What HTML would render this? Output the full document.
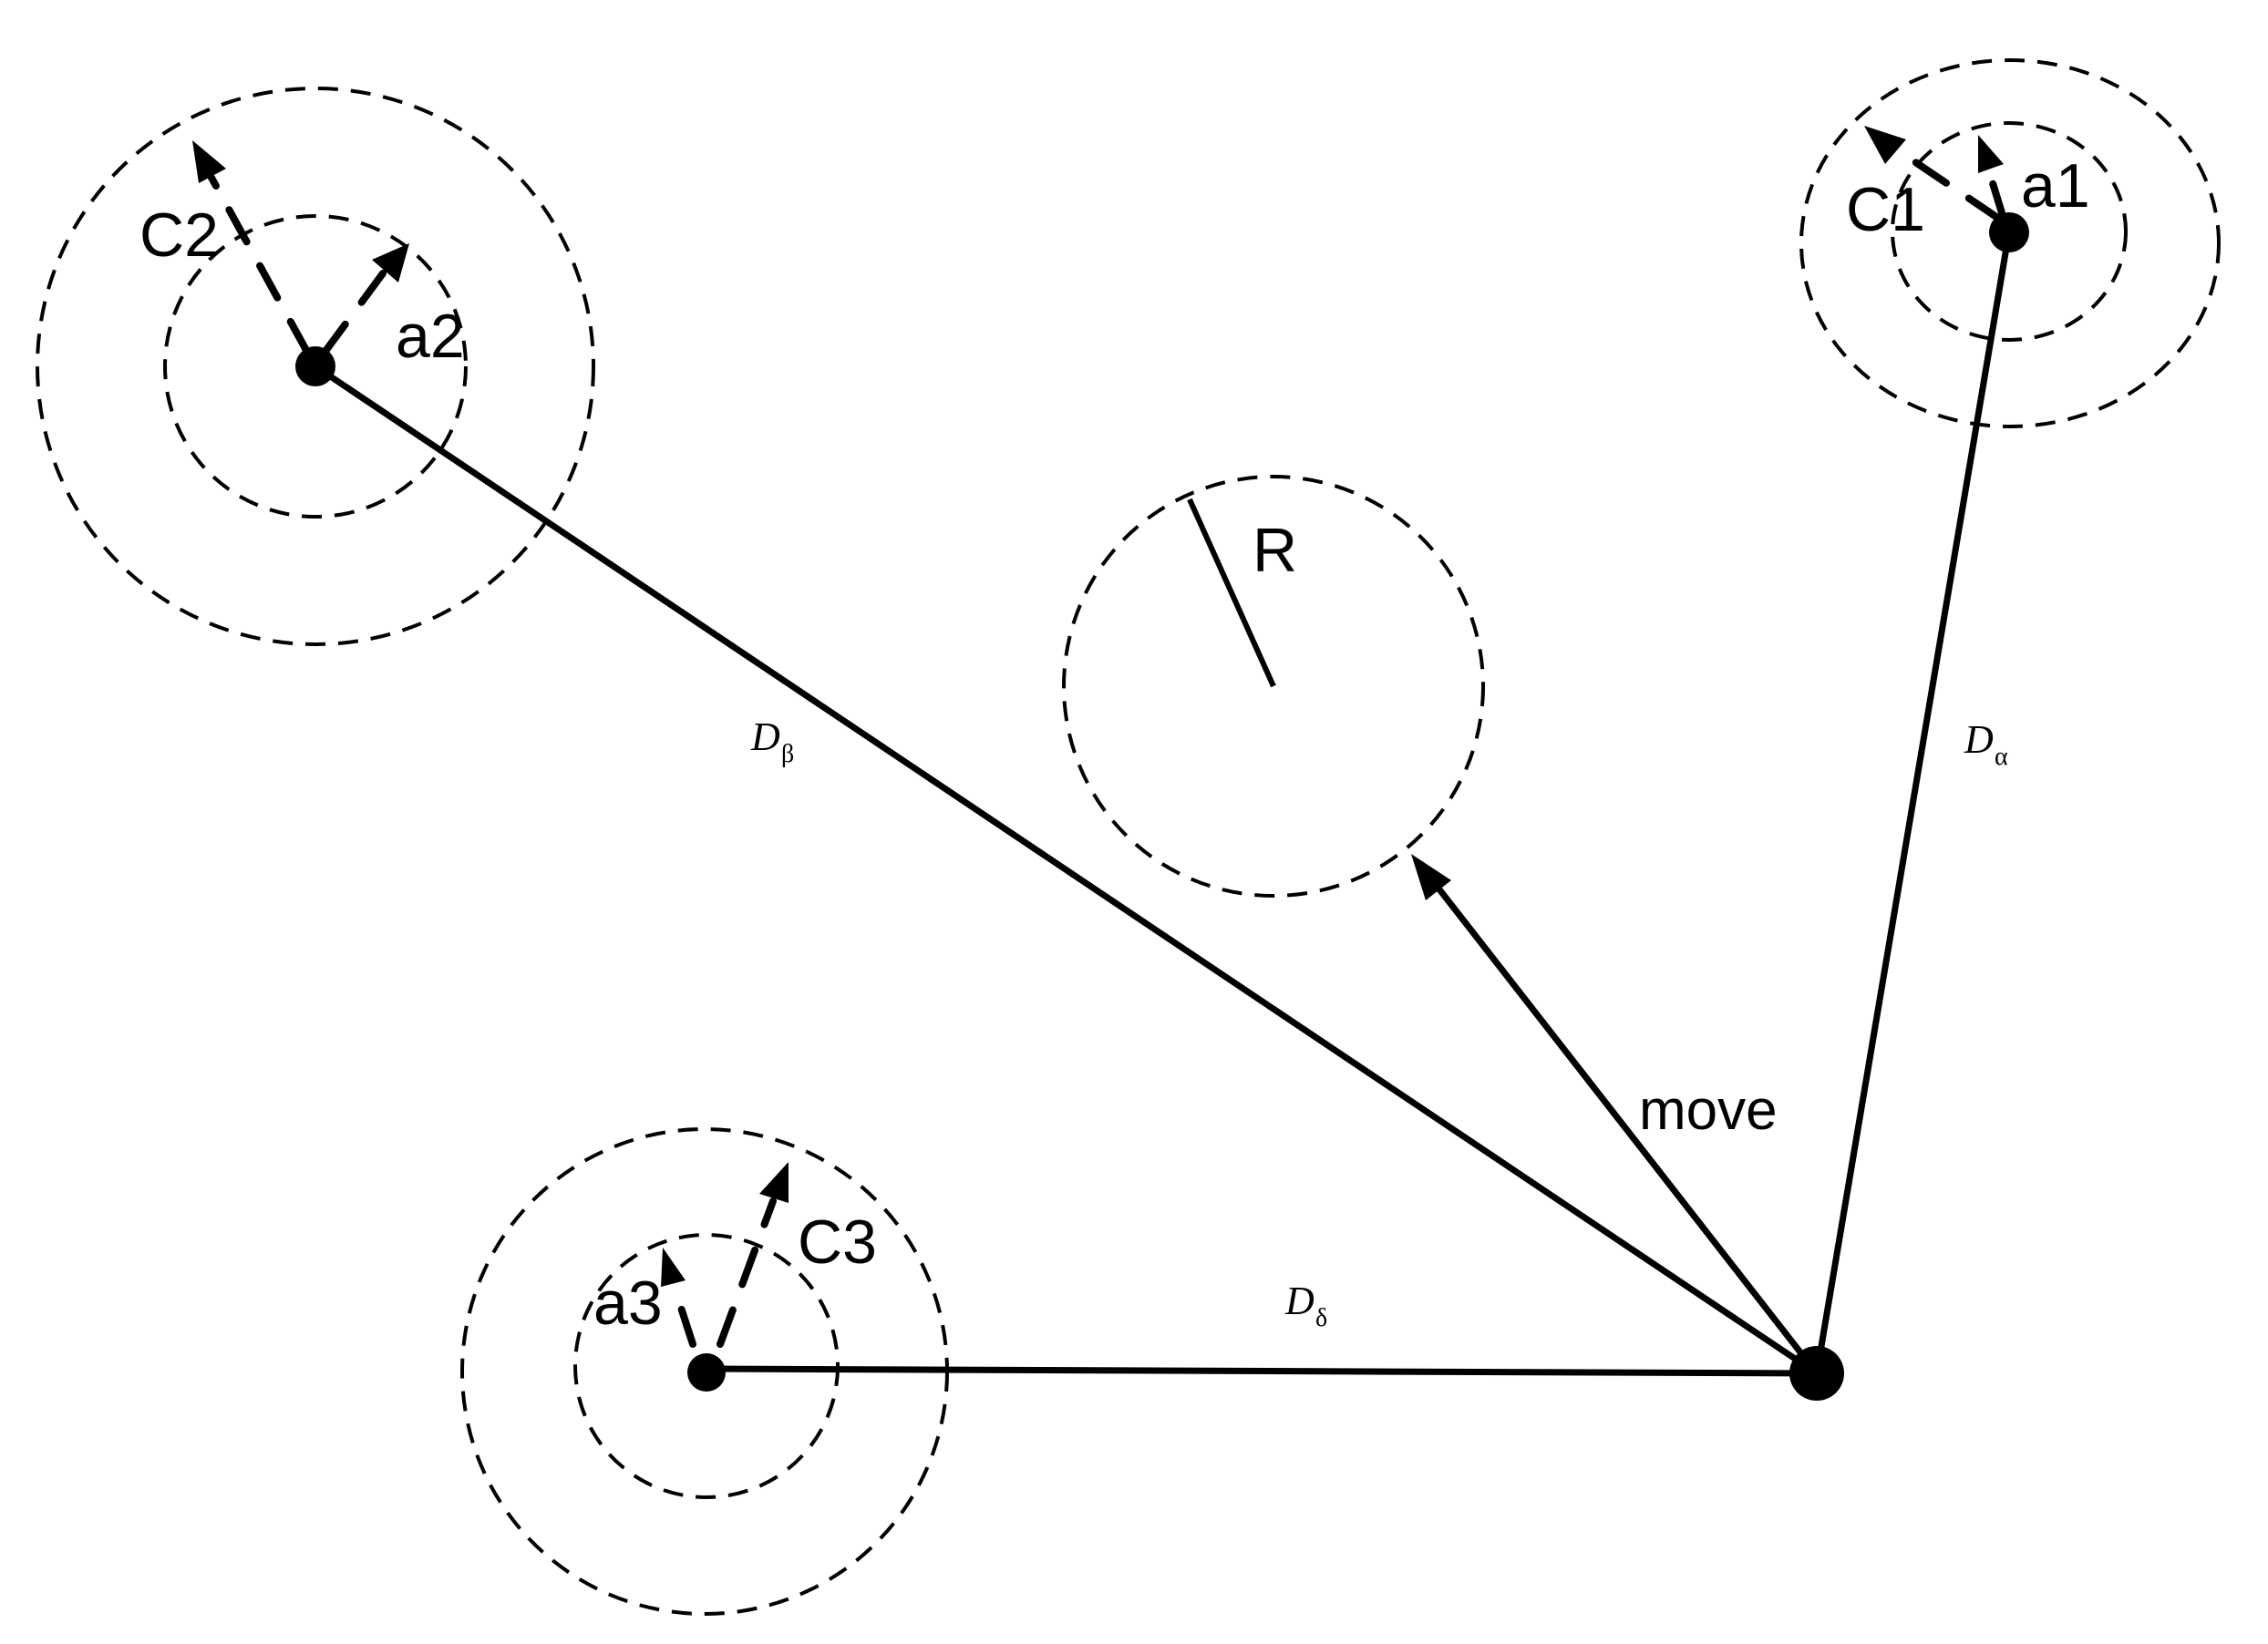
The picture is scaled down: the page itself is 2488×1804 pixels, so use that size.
<!DOCTYPE html>
<html><head><meta charset="utf-8"><style>
html,body{margin:0;padding:0;background:#fff;}
svg{display:block;}
.t{font-family:"Liberation Sans",Arial,sans-serif;font-size:68px;fill:#000;}
.d{font-family:"Liberation Serif",serif;font-style:italic;font-size:44px;fill:#000;}
.s{font-family:"Liberation Serif",serif;font-size:28px;fill:#000;}
</style></head><body>
<svg width="2488" height="1804" viewBox="0 0 2488 1804" xmlns="http://www.w3.org/2000/svg">
<defs>
<marker id="ah" markerWidth="6" markerHeight="6" refX="1" refY="3" orient="auto" markerUnits="strokeWidth">
<path d="M0,0 L6,3 L0,6 z" fill="#000"/>
</marker>
</defs>
<g fill="none" stroke="#000" stroke-width="4" stroke-dasharray="22 14">
<circle cx="346" cy="402" r="305"/>
<circle cx="346" cy="402" r="165"/>
<ellipse cx="2205" cy="267" rx="229" ry="201"/>
<ellipse cx="2204" cy="254" rx="128" ry="119"/>
<circle cx="773" cy="1505" r="266"/>
<circle cx="775" cy="1499" r="144"/>
<circle cx="1397" cy="753" r="230"/>
</g>
<g stroke="#000" stroke-width="7" fill="none">
<line x1="346" y1="402" x2="1993" y2="1507"/>
<line x1="2204" y1="254" x2="1993" y2="1507"/>
<line x1="775" y1="1502" x2="1993" y2="1507"/>
<line x1="1993" y1="1507" x2="1565" y2="958"/>
<line x1="1397" y1="753" x2="1305" y2="548" stroke-width="6"/>
</g>
<polygon points="1548,937 1592,966 1564,988" fill="#000"/>
<g stroke="#000" stroke-width="8" fill="none" stroke-dasharray="40 30" stroke-linecap="round">
<line x1="338" y1="388" x2="232" y2="195"/>
<line x1="355" y1="388" x2="420" y2="300"/>
<line x1="2193" y1="240" x2="2085" y2="167"/>
<line x1="2198" y1="240" x2="2182" y2="188"/>
<line x1="790" y1="1475" x2="848" y2="1318"/>
<line x1="760" y1="1475" x2="739" y2="1410"/>
</g>
<g fill="#000">
<polygon points="211,154 248,185 218,201"/>
<polygon points="449,267 437,310 408,285"/>
<polygon points="2045,138 2091,153 2068,180"/>
<polygon points="2170,148 2198,180 2170,190"/>
<polygon points="865,1275 865,1320 833,1310"/>
<polygon points="727,1369 752,1405 725,1412"/>
<circle cx="346" cy="402" r="22"/>
<circle cx="2204" cy="255" r="22"/>
<circle cx="775" cy="1506" r="21"/>
<circle cx="1993" cy="1507" r="30"/>
</g>
<text class="t" x="153" y="281">C2</text>
<text class="t" x="434" y="392">a2</text>
<text class="t" x="2025" y="253">C1</text>
<text class="t" x="2217" y="227">a1</text>
<text class="t" x="875" y="1386">C3</text>
<text class="t" x="651" y="1453">a3</text>
<text class="t" x="1374" y="627">R</text>
<text class="t" x="1798" y="1239" style="font-size:62px">move</text>
<text class="d" x="824" y="823">D</text><text class="s" x="857" y="836">β</text>
<text class="d" x="2155" y="826">D</text><text class="s" x="2188" y="839">α</text>
<text class="d" x="1410" y="1442">D</text><text class="s" x="1443" y="1455">δ</text>
</svg>
</body></html>
